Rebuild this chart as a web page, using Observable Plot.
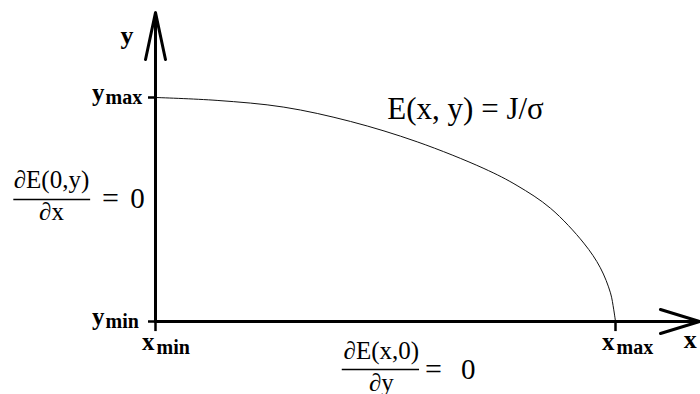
<!DOCTYPE html>
<html>
<head>
<meta charset="utf-8">
<script src="https://cdn.jsdelivr.net/npm/d3@7"></script>
<script src="https://cdn.jsdelivr.net/npm/@observablehq/plot@0.6"></script>
<style>
  html, body { margin: 0; padding: 0; background: #fff; }
  #chart svg { display: block; }
</style>
</head>
<body>
<div id="chart"></div>
<script>
// Domain of the quarter region (normalised units)
const xMin = 0, xMax = 1;
const yMin = 0, yMax = 1;
// Where the axis arrows end, in the same units
const xArrowEnd = 1.183;
const yArrowEnd = 1.379;

// Boundary curve E(x, y) = J/σ, sampled points
const curveX = [0, 0.134, 0.279, 0.424, 0.569, 0.714, 0.786, 0.859, 0.931, 0.967, 0.989, 0.996, 1];
const curveY = [1, 0.987, 0.957, 0.893, 0.802, 0.683, 0.607, 0.505, 0.350, 0.240, 0.128, 0.055, 0];

// Tick values and their subscript names
const xTicks = [xMin, xMax];
const yTicks = [yMin, yMax];
const xTickNames = ["min", "max"];
const yTickNames = ["min", "max"];
const axisNames = ["x", "y"];

// Annotations
const curveLabel = "E(x, y) = J/σ";
const leftCondition = ["∂E(0,y)", "∂x", "="];
const bottomCondition = ["∂E(x,0)", "∂y", "="];
const conditionValue = "0";

const curve = curveX.map((x, i) => ({x, y: curveY[i]}));
const axes = [
  {x1: xMin, y1: yMin, x2: xArrowEnd, y2: yMin},
  {x1: xMin, y1: yMin, x2: xMin, y2: yArrowEnd}
];

const bold = {fontFamily: "Liberation Serif", fontWeight: "bold", fill: "#000", lineAnchor: "bottom"};
const math = {fontFamily: "Liberation Serif", fill: "#000", lineAnchor: "bottom"};

const leftMid = 0.545;      // vertical position of the left fraction bar
const bottomMid = 0.491;    // horizontal centre of the bottom fraction
const xTickLen = 0.045;     // tick length below the x axis
const yTickLen = 0.0152;    // tick length left of the y axis

const chart = Plot.plot({
  width: 700,
  height: 394,
  marginLeft: 155,
  marginRight: 85,
  marginTop: 97,
  marginBottom: 73,
  x: {domain: [xMin, xMax], axis: null},
  y: {domain: [yMin, yMax], axis: null},
  style: {background: "#fff", overflow: "visible"},
  marks: [
    // boundary curve
    Plot.line(curve, {x: "x", y: "y", curve: "catmull-rom", stroke: "#111", strokeWidth: 1}),
    // axes with open arrow heads
    Plot.arrow([axes[0]], {x1: "x1", y1: "y1", x2: "x2", y2: "y2", stroke: "#000", strokeWidth: 3, headLength: 20.5, headAngle: 34}),
    Plot.arrow([axes[1]], {x1: "x1", y1: "y1", x2: "x2", y2: "y2", stroke: "#000", strokeWidth: 3, headLength: 24, headAngle: 24}),
    // tick marks
    Plot.ruleX(xTicks, {x: d => d, y1: yMin - xTickLen, y2: yMin, stroke: "#000", strokeWidth: 2.5}),
    Plot.ruleY(yTicks, {y: d => d, x1: xMin - yTickLen, x2: xMin, stroke: "#000", strokeWidth: 2.5}),
    // x tick labels: letter + subscript
    Plot.text(xTicks, {x: d => d, y: yMin, text: () => axisNames[0], textAnchor: "end", dx: -1, dy: 28, fontSize: 25, ...bold}),
    Plot.text(xTicks, {x: d => d, y: yMin, text: (d, i) => xTickNames[i], textAnchor: "start", dx: 1, dy: 32, fontSize: 20, ...bold}),
    // y tick labels: letter + subscript
    Plot.text(yTicks, {x: xMin, y: d => d, text: () => axisNames[1], textAnchor: "end", dx: -51, dy: 3, fontSize: 25, ...bold}),
    Plot.text(yTicks, {x: xMin, y: d => d, text: (d, i) => yTickNames[i], textAnchor: "start", dx: -50, dy: 6, fontSize: 20, ...bold}),
    // axis names
    Plot.text([axisNames[0]], {x: xArrowEnd, y: yMin, text: d => d, textAnchor: "end", dx: -3, dy: 26, fontSize: 26, ...bold}),
    Plot.text([axisNames[1]], {x: xMin, y: yArrowEnd, text: d => d, textAnchor: "end", dx: -22, dy: 31, fontSize: 26, ...bold}),
    // curve label
    Plot.text([curveLabel], {x: 0.674, y: yMax, text: d => d, textAnchor: "middle", dy: 21, fontSize: 31, letterSpacing: "0.5px", ...math}),
    // left boundary condition ∂E(0,y)/∂x = 0
    Plot.text([leftCondition[0]], {x: xMin, y: leftMid, text: d => d, textAnchor: "middle", dx: -104, dy: -11, fontSize: 25, ...math}),
    Plot.ruleY([leftMid], {x1: -0.308, x2: -0.141, stroke: "#000", strokeWidth: 1.5}),
    Plot.text([leftCondition[1]], {x: xMin, y: leftMid, text: d => d, textAnchor: "middle", dx: -104, dy: 21, fontSize: 25, ...math}),
    Plot.text([leftCondition[2]], {x: xMin, y: leftMid, text: d => d, textAnchor: "middle", dx: -45, dy: 9, fontSize: 30, ...math}),
    Plot.text([conditionValue], {x: xMin, y: leftMid, text: d => d, textAnchor: "middle", dx: -18, dy: 9, fontSize: 29, ...math}),
    // bottom boundary condition ∂E(x,0)/∂y = 0
    Plot.text([bottomCondition[0]], {x: bottomMid, y: yMin, text: d => d, textAnchor: "middle", dy: 37, fontSize: 25, ...math}),
    Plot.ruleY([yMin], {x1: bottomMid - 0.085, x2: bottomMid + 0.083, dy: 48, stroke: "#000", strokeWidth: 1.5}),
    Plot.text([bottomCondition[1]], {x: bottomMid, y: yMin, text: d => d, textAnchor: "middle", dy: 69, fontSize: 25, ...math}),
    Plot.text([bottomCondition[2]], {x: bottomMid, y: yMin, text: d => d, textAnchor: "middle", dx: 52, dy: 57, fontSize: 30, ...math}),
    Plot.text([conditionValue], {x: bottomMid, y: yMin, text: d => d, textAnchor: "middle", dx: 87, dy: 57, fontSize: 29, ...math})
  ]
});

document.getElementById("chart").append(chart);
</script>
</body>
</html>
